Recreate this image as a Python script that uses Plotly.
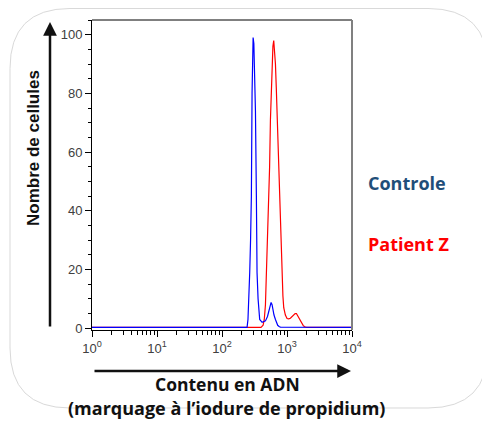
import plotly.graph_objects as go

# ---- data ----
controle_x = [1, 243, 251, 260, 267, 275, 283, 290, 296, 301, 309, 316, 327, 338, 346, 359, 369, 380,
              414, 466, 501, 524, 550, 569, 589, 611, 631, 664, 692, 719, 755, 791, 10000]
controle_y = [0.3, 0.3, 3, 10, 19, 30, 45, 80, 96, 99, 97, 90, 74, 45, 19, 10, 5, 3,
              2, 2.5, 4, 5.5, 8, 8.8, 8, 6, 4.5, 3, 1.8, 1, 0.6, 0.4, 0.3]

patient_x = [1, 398, 429, 447, 466, 479, 493, 508, 524, 540, 556, 571, 589, 607, 625, 644, 664, 684,
             703, 724, 746, 767, 791, 815, 839, 865, 891, 944, 1002, 1062, 1127, 1197, 1271, 1334,
             1396, 1479, 1570, 1667, 1770, 1862, 1991, 10000]
patient_y = [0.3, 0.3, 1, 3, 8, 16, 26, 33, 41, 55, 71, 80, 88, 96, 98, 95, 90, 82,
             74, 64, 54, 45, 35, 25, 16, 11, 7, 4.5, 3.3, 3.2, 3.4, 4, 4.5, 5,
             5, 4, 2.8, 1.8, 1, 0.5, 0.3, 0.3]

x_tickvals = [1, 10, 100, 1000, 10000]
x_ticktext = ["10<sup>0</sup>", "10<sup>1</sup>", "10<sup>2</sup>", "10<sup>3</sup>", "10<sup>4</sup>"]
y_tickvals = [0, 20, 40, 60, 80, 100]

# ---- layout geometry (page has an 8px body margin) ----
OFF = 8
W, H = 490 - OFF, 425 - OFF
ML, MT = 92 - OFF, 20 - OFF
PW, PH = 260, 310
MR, MB = W - ML - PW, H - MT - PH


def px(x):
    return (x - OFF - ML) / PW


def py(y):
    return (H - MB - (y - OFF)) / PH


fig = go.Figure()
fig.add_trace(go.Scatter(x=patient_x, y=patient_y, mode="lines",
                         line=dict(color="#FF0000", width=1.2), name="Patient Z"))
fig.add_trace(go.Scatter(x=controle_x, y=controle_y, mode="lines",
                         line=dict(color="#0000FF", width=1.2), name="Controle"))

minor_x = [m * 10 ** d for d in range(4) for m in range(2, 10)]

fig.update_xaxes(type="log", range=[0, 4], tickmode="array", tickvals=x_tickvals, ticktext=x_ticktext,
                 ticks="outside", ticklen=6, tickcolor="#000", showline=True, linecolor="#000",
                 linewidth=1, showgrid=False, zeroline=False, layer="below traces",
                 tickfont=dict(family="Liberation Sans, Arial", size=13, color="#404040"),
                 minor=dict(tickmode="array", tickvals=minor_x, ticks="outside", ticklen=4,
                            tickcolor="#000", showgrid=False))
fig.update_yaxes(range=[-0.6, 105], tickmode="array", tickvals=y_tickvals,
                 ticks="outside", ticklen=6, tickcolor="#000", showline=True, linecolor="#000",
                 linewidth=1, showgrid=False, zeroline=False, layer="below traces",
                 tickfont=dict(family="Liberation Sans, Arial", size=13, color="#404040"),
                 minor=dict(dtick=5, ticks="outside", ticklen=3, tickcolor="#000", showgrid=False))


def rounded_path(x0, y0, x1, y1, r):
    pts = [("M", [(x0 + r, y0)]), ("L", [(x1 - r, y0)]), ("Q", [(x1, y0), (x1, y0 + r)]),
           ("L", [(x1, y1 - r)]), ("Q", [(x1, y1), (x1 - r, y1)]), ("L", [(x0 + r, y1)]),
           ("Q", [(x0, y1), (x0, y1 - r)]), ("L", [(x0, y0 + r)]), ("Q", [(x0, y0), (x0 + r, y0)])]
    s = ""
    for cmd, ps in pts:
        s += cmd + " " + " ".join(f"{px(a):.5f},{py(b):.5f}" for a, b in ps) + " "
    return s + "Z"


shapes = [
    dict(type="path", xref="paper", yref="paper", path=rounded_path(10, 8.5, 488, 408, 60),
         line=dict(color="#d9d9d9", width=1), fillcolor="white", layer="below"),
    dict(type="line", xref="paper", yref="paper", x0=0, x1=1, y0=1, y1=1,
         line=dict(color="#000", width=1)),
    dict(type="line", xref="paper", yref="paper", x0=1, x1=1, y0=0, y1=1,
         line=dict(color="#808080", width=2)),
]

annotations = [
    # y axis arrow
    dict(xref="paper", yref="paper", x=px(50), y=py(22), ax=0, ay=306, axref="pixel", ayref="pixel",
         text="", showarrow=True, arrowhead=2, arrowsize=1.1, arrowwidth=2.5, arrowcolor="#111"),
    # x axis arrow
    dict(xref="paper", yref="paper", x=px(351), y=py(371), ax=-258, ay=0, axref="pixel", ayref="pixel",
         text="", showarrow=True, arrowhead=2, arrowsize=1.1, arrowwidth=2.5, arrowcolor="#111"),
    dict(xref="paper", yref="paper", x=px(33), y=py(148), text="<b>Nombre de cellules</b>",
         textangle=-90, showarrow=False, xanchor="center", yanchor="middle",
         font=dict(family="Liberation Sans, Arial", size=17, color="#111")),
    dict(xref="paper", yref="paper", x=px(227), y=py(384), text="<b>Contenu en ADN</b>",
         showarrow=False, xanchor="center", yanchor="middle",
         font=dict(family="Open Sans", size=17.5, color="#111")),
    dict(xref="paper", yref="paper", x=px(226), y=py(408), text="<b>(marquage à l’iodure de propidium)</b>",
         showarrow=False, xanchor="center", yanchor="middle",
         font=dict(family="Open Sans", size=18, color="#111")),
    dict(xref="paper", yref="paper", x=px(366), y=py(183), text="<b>Controle</b>",
         showarrow=False, xanchor="left", yanchor="middle",
         font=dict(family="Open Sans", size=18, color="#1F4E79")),
    dict(xref="paper", yref="paper", x=px(366), y=py(244), text="<b>Patient Z</b>",
         showarrow=False, xanchor="left", yanchor="middle",
         font=dict(family="Open Sans", size=18, color="#FF0000")),
]

fig.update_layout(width=W, height=H, margin=dict(l=ML, r=MR, t=MT, b=MB, autoexpand=False),
                  paper_bgcolor="white", plot_bgcolor="white", showlegend=False,
                  shapes=shapes, annotations=annotations)

fig.write_html("out.html")
